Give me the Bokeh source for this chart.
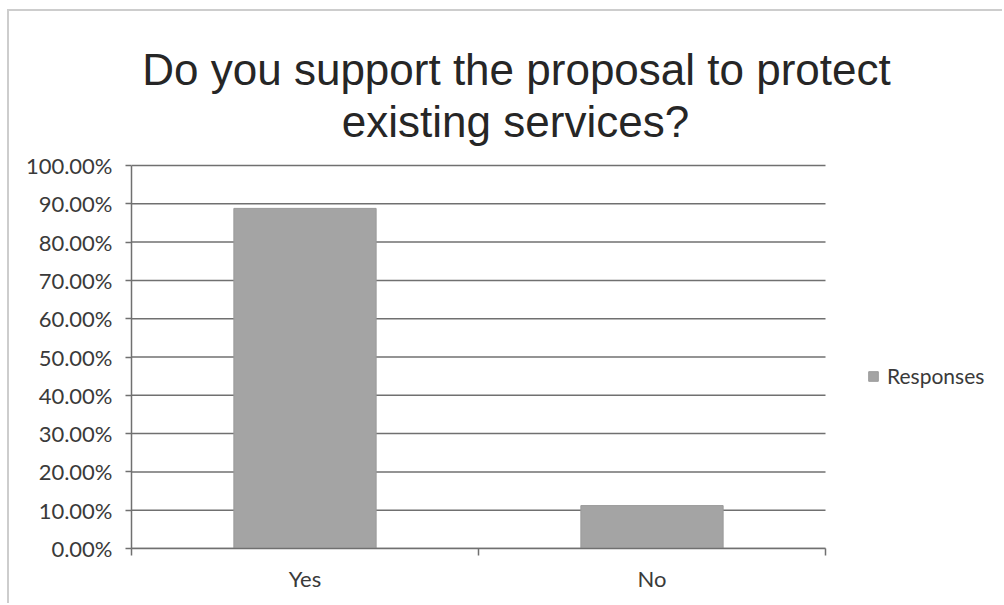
from bokeh.plotting import figure
from bokeh.models import (Range1d, LinearAxis, FixedTicker, Label, ColumnDataSource,
                          PrintfTickFormatter, Legend)
from bokeh.embed import file_html
from bokeh.resources import INLINE

# ---- data ----
title_lines = ["Do you support the proposal to protect", "existing services?"]
categories = ["Yes", "No"]
responses = [88.8, 11.2]          # percent
series_name = "Responses"
y_ticks = [0, 10, 20, 30, 40, 50, 60, 70, 80, 90, 100]

GRID = "#707070"
TXT = "#3a3a3a"

# page geometry (pixels) -> data coordinates of the plotting frame
PX_LEFT, PX_BOTTOM = 131, 548        # category-0 edge / 0 % line
PX_CAT, PX_PCT = 347.0, 3.83         # px per category, px per percent
PX_RIGHT, PX_TOP = 1004, 11          # frame edges on the page
def dx(px): return (px - PX_LEFT) / PX_CAT
def dy(py): return (PX_BOTTOM - py) / PX_PCT

n = len(categories)
p = figure(width=995, height=594, x_range=Range1d(0, dx(PX_RIGHT)),
           y_range=Range1d(0, dy(PX_TOP)), output_backend="svg",
           toolbar_location=None, title_location=None,
           x_axis_location=None, y_axis_location=None,
           min_border_left=122, min_border_right=0, min_border_top=0,
           min_border_bottom=57)
p.outline_line_color = None
p.background_fill_color = "white"
p.border_fill_color = "white"
p.xgrid.visible = False
p.ygrid.visible = False

# horizontal gridlines spanning the category area only
grid_src = ColumnDataSource(dict(y=y_ticks, x0=[0] * len(y_ticks), x1=[n] * len(y_ticks)))
p.segment(x0="x0", x1="x1", y0="y", y1="y", source=grid_src,
          line_color=GRID, line_width=1.5)

src = ColumnDataSource(dict(x=[i + 0.5 for i in range(n)], top=responses, cat=categories))
r = p.vbar(x="x", top="top", width=0.41, source=src, fill_color="#a4a4a4",
           line_color="#9a9a9a", line_width=1)

# y axis
yax = LinearAxis(ticker=FixedTicker(ticks=y_ticks), bounds=(0, 100),
                 formatter=PrintfTickFormatter(format="%.2f%%"))
yax.axis_line_color = GRID
yax.axis_line_width = 1.5
yax.major_tick_line_color = GRID
yax.major_tick_line_width = 1.5
yax.major_tick_in = 0
yax.major_tick_out = 6
yax.minor_tick_line_color = None
yax.major_label_standoff = 13
yax.major_label_text_font = "Lato"
yax.major_label_text_font_size = "22px"
yax.major_label_text_color = TXT
p.add_layout(yax, "left")

# x axis: ticks at category edges, labels at centres (Excel style)
xax = LinearAxis(ticker=FixedTicker(ticks=[i + 0.5 for i in range(n)],
                                    minor_ticks=list(range(n + 1))),
                 bounds=(0, n),
                 major_label_overrides={i + 0.5: c for i, c in enumerate(categories)})
xax.axis_line_color = GRID
xax.axis_line_width = 1.5
xax.major_tick_line_color = None
xax.major_tick_in = 0
xax.major_tick_out = 0
xax.minor_tick_line_color = GRID
xax.minor_tick_line_width = 1.5
xax.minor_tick_in = 0
xax.minor_tick_out = 7
xax.major_label_standoff = 9
xax.major_label_text_font = "Lato"
xax.major_label_text_font_size = "22px"
xax.major_label_text_color = TXT
p.add_layout(xax, "below")

# two-line title
for txt, cx, base in [(title_lines[0], 516, 69), (title_lines[1], 515, 121)]:
    p.add_layout(Label(x=dx(cx), y=dy(base), text=txt, text_align="center",
                       text_baseline="alphabetic", text_font="Liberation Sans",
                       text_font_size="44px", text_color="#262626"))

legend = Legend(items=[(series_name, [r])], location=(736, 160))
legend.padding = 0
legend.margin = 0
legend.border_line_alpha = 0
legend.background_fill_alpha = 0
legend.glyph_width = 12
legend.glyph_height = 12
legend.label_standoff = 8
legend.label_text_font = "Lato"
legend.label_text_font_size = "21px"
legend.label_text_color = TXT
p.add_layout(legend, "center")

# outer chart border (light grey frame of the chart area)
p.styles = {"border-top": "2px solid #cdcdcd", "border-left": "2px solid #cdcdcd",
            "margin-top": "9px", "margin-left": "7px"}

open("out.html", "w").write(file_html(p, INLINE))
